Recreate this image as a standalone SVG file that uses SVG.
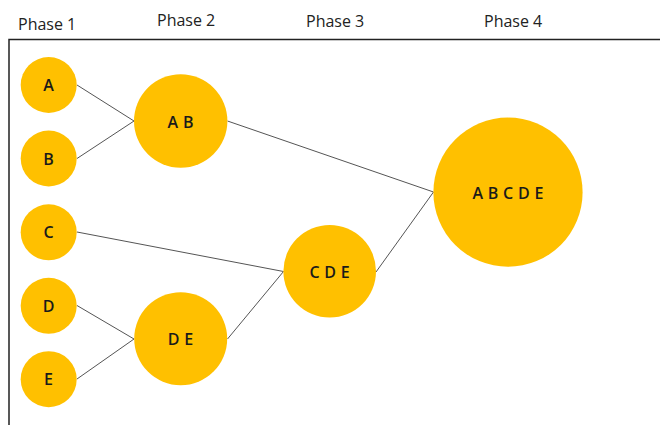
<svg xmlns="http://www.w3.org/2000/svg" width="660" height="425" viewBox="0 0 660 425">
<style>
.hdr{font-family:"Open Sans","Liberation Sans",sans-serif;font-size:16px;fill:#222}
.n circle{fill:#FFC000}
.n text{font-family:"Open Sans","Liberation Sans",sans-serif;font-size:16px;font-weight:600;fill:#1a1a1a;text-anchor:middle;letter-spacing:0.3px}
.c line{stroke:#555;stroke-width:1}
</style>
<rect width="660" height="425" fill="#fff"/>
<g id="headers">
<text class="hdr" x="18" y="30">Phase 1</text>
<text class="hdr" x="157" y="26">Phase 2</text>
<text class="hdr" x="306" y="27">Phase 3</text>
<text class="hdr" x="484" y="27">Phase 4</text>
</g>
<path id="frame" d="M9,425 V39.5 H660" fill="none" stroke="#222" stroke-width="1.5"/>
<g id="connectors" class="c">
<line x1="77" y1="85" x2="134" y2="121"/>
<line x1="77" y1="158.5" x2="134" y2="121"/>
<line x1="77" y1="232" x2="283.5" y2="271.5"/>
<line x1="77" y1="305.5" x2="134" y2="339"/>
<line x1="77" y1="379" x2="134" y2="339"/>
<line x1="227.5" y1="339" x2="283.5" y2="271.5"/>
<line x1="227.5" y1="121" x2="433.5" y2="192"/>
<line x1="376" y1="272" x2="433.5" y2="192"/>
</g>
<g id="node-A" class="n"><circle cx="48.7" cy="85" r="28"/><text x="48.7" y="91">A</text></g>
<g id="node-B" class="n"><circle cx="48.7" cy="158.5" r="28"/><text x="48.7" y="164.5">B</text></g>
<g id="node-C" class="n"><circle cx="48.7" cy="232.3" r="28"/><text x="48.7" y="238.3">C</text></g>
<g id="node-D" class="n"><circle cx="48.7" cy="305.8" r="28"/><text x="48.7" y="311.8">D</text></g>
<g id="node-E" class="n"><circle cx="48.7" cy="379.2" r="28"/><text x="48.7" y="385.2">E</text></g>
<g id="node-AB" class="n"><circle cx="180.7" cy="121" r="46.7"/><text x="180.7" y="127.5">A B</text></g>
<g id="node-DE" class="n"><circle cx="180.7" cy="338.7" r="46.5"/><text x="180.7" y="345">D E</text></g>
<g id="node-CDE" class="n"><circle cx="329.7" cy="271.3" r="46.3"/><text x="329.7" y="277.5">C D E</text></g>
<g id="node-ABCDE" class="n"><circle cx="508" cy="192.2" r="74.6"/><text x="508" y="198.5">A B C D E</text></g>
</svg>
